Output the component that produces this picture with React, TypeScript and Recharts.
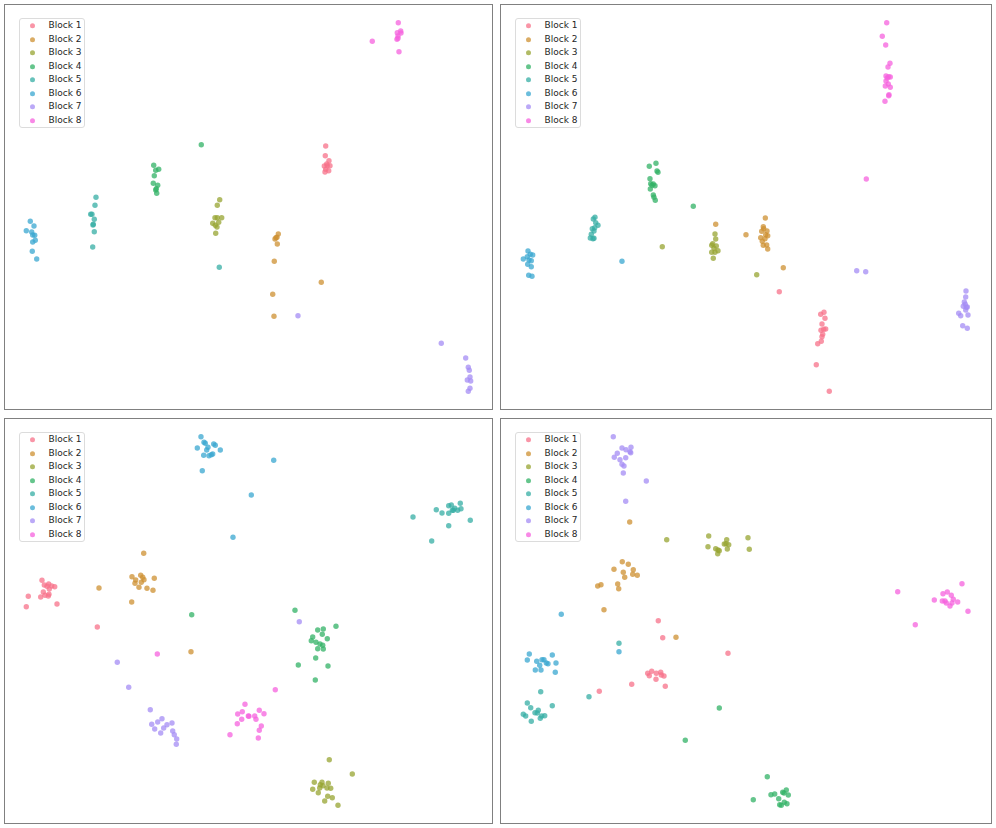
import { ScatterChart, Scatter, XAxis, YAxis } from "recharts";

type Pt = [number, number];

const blockNames = ["Block 1", "Block 2", "Block 3", "Block 4", "Block 5", "Block 6", "Block 7", "Block 8"];
const blockColors = ["#f77189", "#ce9032", "#97a431", "#32b166", "#36ada4", "#39a7d0", "#a48cf4", "#f561dd"];

// top-left embedding
const embedA: Pt[][] = [
  [[325.7,146],[325.3,155.7],[329,160.7],[326.7,164],[324.3,166],[327.3,165.7],[330,165.7],[325.7,169.3],[328.7,170.7],[325,172]],
  [[278.3,234],[276,237.7],[275,239],[277,237.3],[277.3,244],[274.3,261.3],[321.3,282.3],[272.7,294.3],[274,316.3]],
  [[219.7,199.7],[217.3,205.3],[215,217.7],[217.3,217.7],[221.7,217.7],[212.7,223.3],[218.7,222.3],[215.3,225.3],[217,227],[215.7,233.3]],
  [[201.3,144.7],[153.7,165.3],[155.7,170.3],[158.7,169.3],[154.3,175.7],[153.3,183.3],[157.7,185.3],[156.3,188.7],[155.7,190],[156.7,193.3]],
  [[96,197.3],[95,205.3],[90.7,214.3],[92,214.3],[94.3,219.3],[93.3,224.3],[93,225],[94.3,231.7],[92.7,247],[219.3,267.3]],
  [[30.3,221.3],[34,226],[26.3,230.7],[31.7,232],[34.7,235.3],[32.7,235],[35.3,240.3],[32.7,242],[32.3,251.3],[36.7,259]],
  [[298,315.7],[441.3,343.3],[465.7,358],[468.3,367.3],[469.3,370.3],[470,377],[467.3,380],[470.7,381],[470,388.3],[468.3,391.3]],
  [[398.3,22.7],[397.3,32.7],[400.7,31],[401,33],[398,36],[397,39.3],[398,38.3],[399,51.7],[372.3,41.3]],
];

// top-right embedding
const embedB: Pt[][] = [
  [[779.3,291.7],[820.7,314.3],[824,312.3],[825,318.3],[822,324],[821,330.3],[823.7,329.3],[825.7,329],[822.7,334.3],[822,336.7],[821.3,341.3],[817.7,343.7],[816.3,364.7],[829.3,391.3]],
  [[715.7,224.3],[746,234.7],[765.3,218],[763.3,226.7],[763.7,228.7],[761.7,231.3],[767,231],[765.7,234.7],[760.7,237.7],[767.7,235.7],[765,238.7],[762.3,241.3],[766.7,245],[763.3,245.3],[767.7,249],[783.3,267.7]],
  [[662.3,246.7],[715,234],[715.7,239],[712.7,243.7],[711.7,245.3],[716.3,246],[714,248.3],[718,250.7],[711.7,252.3],[715,252.3],[713.3,258.3],[756.7,274.7]],
  [[649.3,166.3],[656,163.3],[657,171],[658,172.3],[650,178.7],[650.7,183.7],[653.3,184],[655,185.7],[652,185.3],[650.3,189],[653.3,195],[654,197.3],[655.3,200.3],[693.3,206.3]],
  [[595,217.3],[593.3,219],[595.7,222.7],[598,225.3],[594.7,227.7],[592.3,228.7],[594,231],[591.3,234.3],[590.3,238],[594,238.3],[593,238.7]],
  [[528,251],[530.3,254.3],[532.7,255],[527.3,256.7],[523.3,259],[529,260],[531.3,260.7],[527.7,264.3],[531.3,266.7],[528.7,275.3],[532,276.3],[622,261.3]],
  [[856.7,270.7],[865.7,271.7],[966,291],[965.7,297],[964.3,302],[965.3,304.3],[963.3,306.3],[966.3,307.3],[967.3,307],[965.7,310],[958.7,313.3],[960.7,315.7],[968,315],[962.7,325.7],[967.3,328.3]],
  [[886.7,22.7],[882.3,36.3],[885.7,45],[890,63.3],[888,67],[886,76],[888.7,76.7],[890.3,77],[887.3,78],[886,81],[888.3,84],[885.3,86],[890.3,87.3],[889,94.7],[888.7,95.7],[885,101.3],[866.3,179]],
];

// bottom-left embedding
const embedC: Pt[][] = [
  [[42,580.3],[48.7,584],[44.3,585],[47,586.3],[51.7,586],[54.7,586.7],[49.3,589],[43.3,592],[28.3,596.3],[40.7,597],[45,595.3],[49,594.3],[48.3,596],[26.3,606.7],[57,604],[97.3,627]],
  [[143.7,553.3],[132,576.7],[140.7,575.3],[142.7,577.3],[135.7,580],[144,579.7],[141.3,582.3],[135,583.3],[139,587.3],[147,588.3],[153,590.3],[154.3,578.3],[131.7,602],[99,588],[191,651.7]],
  [[329.3,759.7],[352.3,774],[314.3,782.3],[322,782.3],[328.3,783.3],[320.3,784.7],[323,785.7],[327,788],[330.7,788.3],[319.7,788],[312.7,789.3],[318.3,792.7],[327.7,796.3],[332.3,797.7],[324.7,801],[338,805.3]],
  [[191.7,614.7],[295,610.3],[336,626.3],[317.7,630],[323.3,629],[322.3,634.3],[327.3,638.7],[312.7,637],[311.3,640.7],[316,642.3],[320,644],[322.7,645.3],[317.7,648.7],[323.3,649],[315.7,658],[298.3,665],[328,666],[315.3,680]],
  [[413,517],[436.3,509.7],[442,513],[448.7,513.3],[448.7,505.7],[451.3,505],[454.7,508.3],[453.3,510.3],[457.7,510.3],[460.3,503.3],[461,508.7],[452.3,510.3],[470.3,520.3],[448.7,525.7],[431.7,541]],
  [[201,436.7],[204,442.3],[205.3,443.3],[213.7,444],[215.3,445.3],[197.3,448],[208,447.3],[206.7,450],[220.3,450],[212.7,454],[211.3,454.7],[203.7,455.3],[209,455.7],[202.3,470.7],[273.7,460.3],[251.3,495],[233,537.3]],
  [[117.3,662.3],[128.7,687.3],[150.3,709.7],[157.7,722],[162,718.7],[151.7,724.3],[167,724.7],[172,723],[163.7,728],[154.7,729],[160.7,733],[172.7,731],[174.3,734.7],[176.7,739],[176.3,744.3],[299.3,621.7]],
  [[157.3,654],[245,704.3],[242.3,711.7],[237.7,714],[248.3,716],[241.7,719.3],[237.3,723.7],[230,734.7],[275.3,689.7],[259.3,710.3],[264,713.7],[249,716.3],[254.7,716],[256,719.3],[261.3,726],[259.3,730.3],[258.3,738]],
];

// bottom-right embedding
const embedD: Pt[][] = [
  [[658.3,620.7],[662.7,637.7],[728,653.3],[647.7,673.3],[651.7,671.3],[656.3,673.3],[660.7,672.3],[649.3,675.7],[661.3,675],[664,676],[656,679.3],[665.3,686.3],[631.7,684.3],[599.3,691.3]],
  [[629.7,522],[622.3,561.7],[628.3,564.3],[614,569.3],[633.3,569.7],[623.3,572.3],[624.7,577.3],[632.7,574.3],[637.3,575.3],[601,584.7],[597.7,586],[617.7,584],[618.7,588.7],[604,609.7],[676,637.3]],
  [[666.7,539.7],[708.7,536],[708,546.7],[715.7,548.7],[718,550],[717.7,553.7],[726.7,539.7],[726,543.7],[724.3,544],[728.7,544.7],[727.3,549],[719.3,550.7],[748,537.7],[749.3,549.3]],
  [[719.3,708],[685.3,740.3],[767.3,776.7],[753.3,799.7],[771,794.7],[774.7,794],[782.7,792.3],[786.3,790],[784,793],[788.3,795],[778.7,798.7],[784.3,802.3],[787,803.7],[779.7,804.7],[781.3,805.3]],
  [[619,643.3],[589,696.7],[540.7,691.7],[527.3,703],[530.7,707.7],[552.3,705.7],[538.3,710.3],[535,712.7],[537.3,713],[523.3,714.3],[525.7,716],[541.7,716],[544.7,715.7],[540.3,718.3],[531.3,721.3]],
  [[561.3,614.3],[619,651.7],[529.3,654],[527.3,660],[536.7,661.3],[542,659.7],[544,659.7],[546.3,663],[548,663.7],[552.3,655],[556,663],[539.7,665.3],[535.3,670],[541,670],[555.3,672.3]],
  [[613.3,436.7],[622,448],[626,449.7],[631,447.3],[630,451.7],[630.7,452.7],[617.3,453.3],[614.3,457.3],[620,459.7],[625.7,457.7],[622,464.3],[624,466],[623.3,473],[646.3,481],[625.7,501.3]],
  [[962,583.7],[897.7,591.7],[943,593.7],[947.3,592],[951.3,595.3],[934.3,600],[942.3,601],[945,601],[953.3,599.3],[946.3,603],[957.7,602],[952,603],[950,606],[968,611.3],[915.3,624.7]],
];

const ALPHA = 0.75;

const Legend8 = () => (
  <div
    style={{
      position: "absolute",
      left: 13.5,
      top: 12.5,
      width: 66,
      height: 110,
      boxSizing: "border-box",
      border: "1px solid #dcdcdc",
      borderRadius: 3,
      background: "rgba(255,255,255,0.8)",
      paddingTop: 0.5,
      fontFamily: "'DejaVu Sans', sans-serif",
      fontSize: 9,
      color: "#262626",
    }}
  >
    {blockNames.map((name, i) => (
      <div key={name} style={{ display: "flex", alignItems: "center", height: 13.5, lineHeight: "13.5px" }}>
        <svg width={29} height={13.5} style={{ flex: "none" }}>
          <circle cx={12.5} cy={6.75} r={2.5} fill={blockColors[i]} fillOpacity={ALPHA} />
        </svg>
        <span style={{ whiteSpace: "nowrap" }}>{name}</span>
      </div>
    ))}
  </div>
);

const Panel = ({ left, top, w, h, x0, y0, groups }: { left: number; top: number; w: number; h: number; x0: number; y0: number; groups: Pt[][] }) => {
  const innerW = w - 2;
  const innerH = h - 2;
  return (
    <div style={{ position: "absolute", left, top, width: w, height: h, boxSizing: "border-box", border: "1px solid #808080", background: "#fff" }}>
      <ScatterChart width={innerW} height={innerH} margin={{ top: 0, right: 0, bottom: 0, left: 0 }}>
        <XAxis type="number" dataKey="x" domain={[x0, x0 + innerW]} allowDataOverflow hide />
        <YAxis type="number" dataKey="y" domain={[y0, y0 + innerH]} allowDataOverflow reversed hide />
        {groups.map((pts, i) => (
          <Scatter
            key={blockNames[i]}
            name={blockNames[i]}
            data={pts.map(([x, y]) => ({ x, y }))}
            isAnimationActive={false}
            shape={(p: any) => <circle cx={p.cx} cy={p.cy} r={2.7} fill={blockColors[i]} fillOpacity={ALPHA} />}
          />
        ))}
      </ScatterChart>
      <Legend8 />
    </div>
  );
};

export default function App() {
  return (
    <div style={{ position: "absolute", left: 0, top: 0, width: 996, height: 828, background: "#fff" }}>
      <Panel left={4} top={4} w={489} h={406} x0={5} y0={5} groups={embedA} />
      <Panel left={500} top={4} w={492} h={406} x0={501} y0={5} groups={embedB} />
      <Panel left={4} top={418} w={489} h={406} x0={5} y0={419} groups={embedC} />
      <Panel left={500} top={418} w={492} h={406} x0={501} y0={419} groups={embedD} />
    </div>
  );
}
